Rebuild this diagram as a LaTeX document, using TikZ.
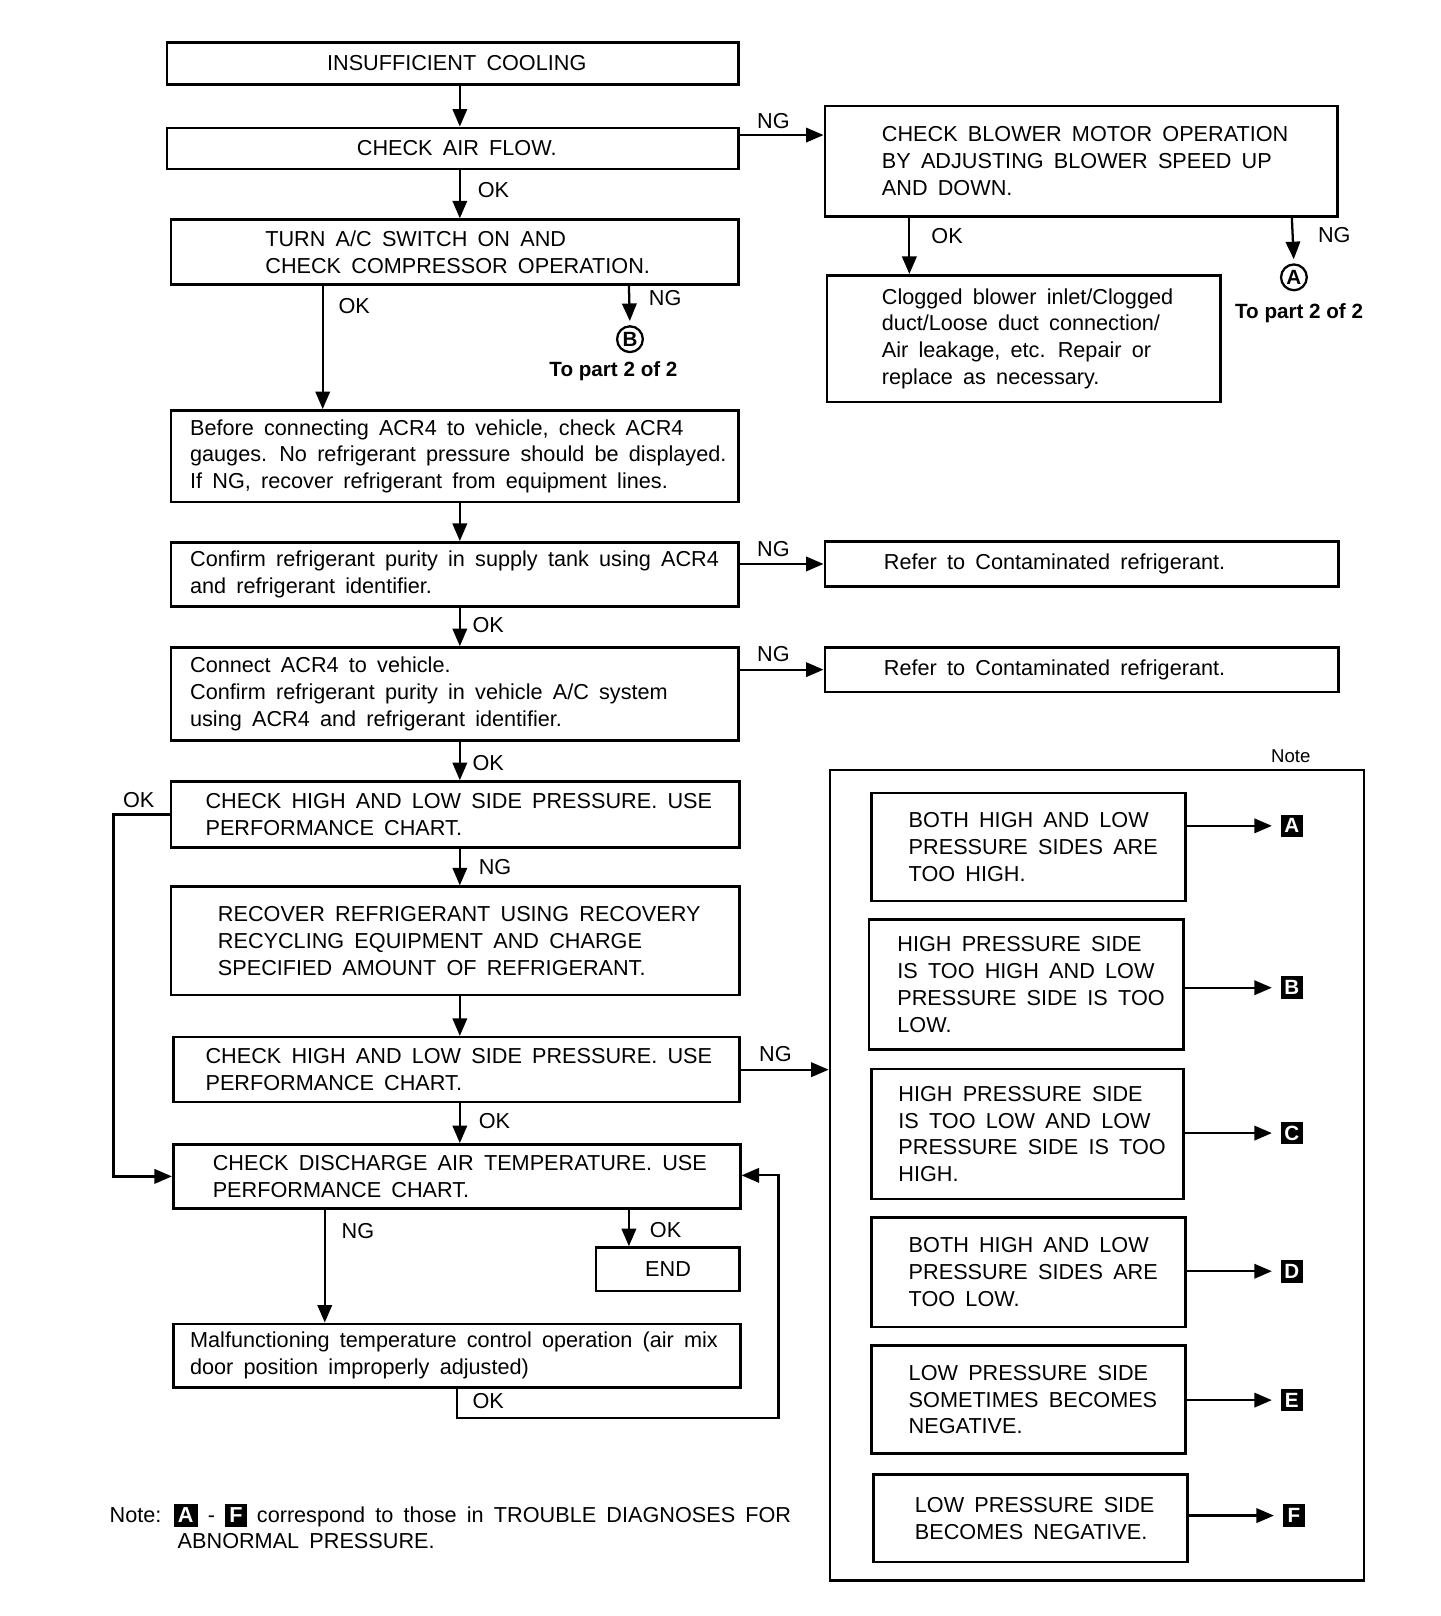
\documentclass[tikz,border=0pt]{standalone}
\usepackage{fontspec}
\setmainfont{Liberation Sans}[WordSpace=1.7]
\newfontfamily\plainsans{Liberation Sans}
\usetikzlibrary{arrows.meta}
\tikzset{
  bx/.style={draw, line width=1.25pt, inner sep=0pt},
  txt/.style={font=\fontsize{10.5}{13}\selectfont, align=left, inner sep=0pt},
  lbl/.style={font=\fontsize{10.5}{13}\selectfont, inner sep=0pt, anchor=west},
  con/.style={line width=1.1pt},
  arr/.style={con, -{Triangle[length=8.5pt,width=7pt]}},
  tagbox/.style={fill=black, text=white, font=\fontsize{10}{12}\plainsans\bfseries, inner sep=0pt, minimum size=11pt},
  circtag/.style={draw, circle, line width=1.1pt, font=\fontsize{10}{11}\plainsans\bfseries, inner sep=0pt, minimum size=12.5pt},
  bold/.style={font=\fontsize{10}{12}\plainsans\bfseries, inner sep=0pt},
}
\newcommand\mkbox[8]{% name x1 y1 x2 y2 anchor textx text
  \pgfmathsetmacro\bw{(#4-#2)*0.5}%
  \pgfmathsetmacro\bh{(#5-#3)*0.5}%
  \node[bx, minimum width=\bw pt, minimum height=\bh pt] (#1) at ({(#2+#4)/2},{(#3+#5)/2}) {};
  \node[txt, anchor=#6] (#1t) at (#7,{(#3+#5)/2}) {#8};}
\newcommand\inltag[1]{{\setlength\fboxsep{2pt}\colorbox{black}{\textcolor{white}{\plainsans\bfseries #1}}}}
\begin{document}
\begin{tikzpicture}[x=0.5pt,y=-0.5pt]
\useasboundingbox (0,0) rectangle (1396.7,1567.4);
% left column
\mkbox{b1}{162}{41}{716}{82}{center}{443}{INSUFFICIENT COOLING}
\mkbox{b2}{162}{124}{716}{164}{center}{443}{CHECK AIR FLOW.}
\mkbox{b3}{166}{213}{716}{276}{west}{257}{TURN A/C SWITCH ON AND\\CHECK COMPRESSOR OPERATION.}
\mkbox{b4}{166}{398}{716}{487}{west}{184}{Before connecting ACR4 to vehicle, check ACR4\\gauges. No refrigerant pressure should be displayed.\\If NG, recover refrigerant from equipment lines.}
\mkbox{b5}{166}{526}{716}{588}{west}{184}{Confirm refrigerant purity in supply tank using ACR4\\and refrigerant identifier.}
\mkbox{b6}{166}{628}{716}{718}{west}{184}{Connect ACR4 to vehicle.\\Confirm refrigerant purity in vehicle A/C system\\using ACR4 and refrigerant identifier.}
\mkbox{b7}{166}{758}{717}{822}{west}{199}{CHECK HIGH AND LOW SIDE PRESSURE. USE\\PERFORMANCE CHART.}
\mkbox{b8}{166}{860}{717}{965}{west}{211}{RECOVER REFRIGERANT USING RECOVERY\\RECYCLING EQUIPMENT AND CHARGE\\SPECIFIED AMOUNT OF REFRIGERANT.}
\mkbox{b9}{168}{1006}{717}{1069}{west}{199}{CHECK HIGH AND LOW SIDE PRESSURE. USE\\PERFORMANCE CHART.}
\mkbox{b10}{168}{1110}{718}{1172}{west}{206}{CHECK DISCHARGE AIR TEMPERATURE. USE\\PERFORMANCE CHART.}
\mkbox{b11}{578}{1210}{717}{1252}{center}{648}{END}
\mkbox{b12}{168}{1284}{718}{1346}{west}{184}{Malfunctioning temperature control operation (air mix\\door position improperly adjusted)}
% right column
\mkbox{r1}{800}{103}{1297}{210}{west}{855}{CHECK BLOWER MOTOR OPERATION\\BY ADJUSTING BLOWER SPEED UP\\AND DOWN.}
\mkbox{r2}{802}{267}{1184}{390}{west}{855}{Clogged blower inlet/Clogged\\duct/Loose duct connection/\\Air leakage, etc. Repair or\\replace as necessary.}
\mkbox{r3}{800}{525}{1298}{569}{west}{857}{Refer to Contaminated refrigerant.}
\mkbox{r4}{800}{628}{1298}{671}{west}{857}{Refer to Contaminated refrigerant.}
% note box
\mkbox{nb}{805}{747}{1323}{1533}{center}{1064}{}
\node[font=\fontsize{9}{11}\selectfont, inner sep=0pt] (notelbl) at (1252,733) {Note};
\mkbox{n1}{845}{769}{1150}{874}{west}{881}{BOTH HIGH AND LOW\\PRESSURE SIDES ARE\\TOO HIGH.}
\mkbox{n2}{843}{892}{1148}{1018}{west}{870}{HIGH PRESSURE SIDE\\IS TOO HIGH AND LOW\\PRESSURE SIDE IS TOO\\LOW.}
\mkbox{n3}{845}{1037}{1148}{1163}{west}{871}{HIGH PRESSURE SIDE\\IS TOO LOW AND LOW\\PRESSURE SIDE IS TOO\\HIGH.}
\mkbox{n4}{845}{1181}{1150}{1287}{west}{881}{BOTH HIGH AND LOW\\PRESSURE SIDES ARE\\TOO LOW.}
\mkbox{n5}{845}{1305}{1150}{1410}{west}{881}{LOW PRESSURE SIDE\\SOMETIMES BECOMES\\NEGATIVE.}
\mkbox{n6}{847}{1430}{1152}{1515}{west}{887}{LOW PRESSURE SIDE\\BECOMES NEGATIVE.}
% tags
\node[tagbox] (ta) at (1253,801) {A};
\node[tagbox] (tb) at (1253,958) {B};
\node[tagbox] (tc) at (1253,1099) {C};
\node[tagbox] (td) at (1253,1233) {D};
\node[tagbox] (te) at (1253,1358) {E};
\node[tagbox] (tf) at (1255,1470) {F};
\foreach \n/\t in {n1/ta,n2/tb,n3/tc,n4/td,n5/te,n6/tf}
  \draw[arr, shorten >=4pt] (\n.east |- \t.west) -- (\t.west);
% circled tags
\node[circtag] (cA) at (1255,269) {A};
\node[bold] (pA) at (1260,304) {To part 2 of 2};
\node[circtag] (cB) at (611,329) {B};
\node[bold] (pB) at (595,360) {To part 2 of 2};
% helper coordinates
\coordinate (xc) at (446,0);
\coordinate (xok3) at (313,0);
\coordinate (xr1) at (882,0);
\coordinate (xA) at (1253,0);
\coordinate (xB) at (610,0);
\coordinate (xng) at (315,0);
\coordinate (y131) at (0,131);
\coordinate (lp1) at (443,1375);
\coordinate (lp2) at (755,1140);
\coordinate (okl) at (110,790);
% connectors
\draw[arr] (b1.south -| xc) -- (b2.north -| xc);
\draw[arr] (b2.east |- y131) -- (r1.west |- y131);
\node[lbl] (l1) at (734,117) {NG};
\draw[arr] (b2.south -| xc) -- (b3.north -| xc);
\node[lbl] (l2) at (463,184) {OK};
\draw[arr] (r1.south -| xr1) -- (r2.north -| xr1);
\node[lbl] (l3) at (903,229) {OK};
\draw[arr, shorten >=2pt] (r1.south -| xA) -- (cA.north);
\node[lbl] (l4) at (1278,228) {NG};
\draw[arr, shorten >=2pt] (b3.south -| xB) -- (cB.north);
\node[lbl] (l5) at (629,289) {NG};
\draw[arr] (b3.south -| xok3) -- (b4.north -| xok3);
\node[lbl] (l6) at (328,297) {OK};
\draw[arr] (b4.south -| xc) -- (b5.north -| xc);
\draw[arr] (b5.east |- r3.west) -- (r3.west);
\node[lbl] (l7) at (734,533) {NG};
\draw[arr] (b5.south -| xc) -- (b6.north -| xc);
\node[lbl] (l8) at (458,606) {OK};
\draw[arr] (b6.east |- r4.west) -- (r4.west);
\node[lbl] (l9) at (734,634) {NG};
\draw[arr] (b6.south -| xc) -- (b7.north -| xc);
\node[lbl] (l10) at (458,740) {OK};
\draw[arr] (b7.west) -- (b7.west -| okl) |- (b10.west);
\node[lbl] (l11) at (119,776) {OK};
\draw[arr] (b7.south -| xc) -- (b8.north -| xc);
\node[lbl] (l12) at (464,841) {NG};
\draw[arr] (b8.south -| xc) -- (b9.north -| xc);
\draw[arr] (b9.east) -- (nb.west |- b9.east);
\node[lbl] (l13) at (736,1022) {NG};
\draw[arr] (b9.south -| xc) -- (b10.north -| xc);
\node[lbl] (l14) at (464,1087) {OK};
\draw[arr] (b10.south -| xB) -- (b11.north -| xB);
\node[lbl] (l15) at (630,1193) {OK};
\draw[arr] (b10.south -| xng) -- (b12.north -| xng);
\node[lbl] (l16) at (331,1194) {NG};
\draw[arr] (b12.south -| lp1) -- (lp1) -| (lp2) -- (b10.east |- lp2);
\node[lbl] (l17) at (458,1359) {OK};
% bottom note
\node[lbl] (nt1) at (106,1470) {Note: \inltag{A} - \inltag{F} correspond to those in TROUBLE DIAGNOSES FOR};
\node[lbl] (nt2) at (172,1495) {ABNORMAL PRESSURE.};
\end{tikzpicture}
\end{document}
